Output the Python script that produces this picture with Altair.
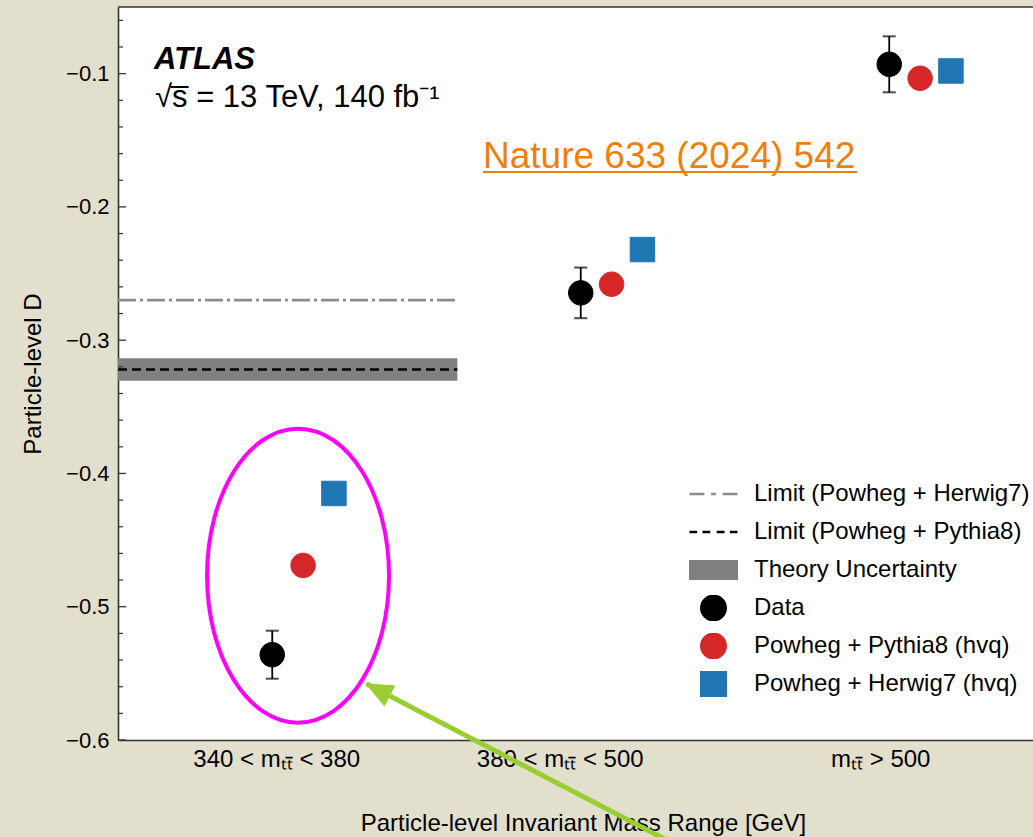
import json
import altair as alt
import pandas as pd

# ---------------- data ----------------
categories = ["340 < mₜₜ̄ < 380", "380 < mₜₜ̄ < 500", "mₜₜ̄ > 500"]
data_D = [-0.536, -0.2645, -0.093]
data_err = [0.018, 0.019, 0.021]
pythia_D = [-0.469, -0.258, -0.1035]
herwig_D = [-0.415, -0.232, -0.098]
limit_herwig = -0.270
limit_pythia = -0.322
theory_unc = 0.0084
limit_x = [-0.5, 0.6]
y_major = [-0.6, -0.5, -0.4, -0.3, -0.2, -0.1]

legend_labels = [
    "Limit (Powheg + Herwig7)",
    "Limit (Powheg + Pythia8)",
    "Theory Uncertainty",
    "Data",
    "Powheg + Pythia8 (hvq)",
    "Powheg + Herwig7 (hvq)",
]
legend_colors = ["#8c8c8c", "#000000", "#808080", "#000000", "#d62728", "#1f77b4"]
CIRCLE = "M-0.51,0A0.51,0.51 0 1,0 0.51,0A0.51,0.51 0 1,0 -0.51,0Z"
legend_shapes = [
    "M-1,0H-0.38M-0.1,0H0.1M0.38,0H1",
    "M-1,0H-0.68M-0.46,0H-0.135M0.135,0H0.46M0.68,0H1",
    "M-0.97,-0.36H0.97V0.36H-0.97Z",
    CIRCLE,
    CIRCLE,
    "M-0.51,-0.51H0.51V0.51H-0.51Z",
]

# hand-drawn annotations on the slide
ellipse_center = [0.0836, -0.4767]
arrow_tip = [0.305, -0.5578]
arrow_tail = [1.462, -0.6972]

# ---------------- tables ----------------
series_defs = [("Data", data_D, 0.0), ("Powheg + Pythia8 (hvq)", pythia_D, 0.1),
               ("Powheg + Herwig7 (hvq)", herwig_D, 0.2)]
pts = pd.DataFrame([
    {"pos": i + off, "D": vals[i], "series": name}
    for name, vals, off in series_defs for i in range(len(categories))
])
err = pd.DataFrame({
    "pos": list(range(len(categories))),
    "lo": [v - e for v, e in zip(data_D, data_err)],
    "hi": [v + e for v, e in zip(data_D, data_err)],
})
band = pd.DataFrame({"x0": [limit_x[0]], "x1": [limit_x[1]],
                     "y0": [limit_pythia - theory_unc], "y1": [limit_pythia + theory_unc]})
lines = pd.DataFrame({"x0": [limit_x[0]], "x1": [limit_x[1]],
                      "herwig": [limit_herwig], "pythia": [limit_pythia]})
minor_vals = [round(-0.6 + 0.02 * k, 2) for k in range(28)]
minor_vals = [v for v in minor_vals if all(abs(v - m) > 1e-9 for m in y_major)]
major_df = pd.DataFrame({"v": y_major})
minor_df = pd.DataFrame({"v": minor_vals})
ell_df = pd.DataFrame({"x": [ellipse_center[0]], "y": [ellipse_center[1]]})
arrow_df = pd.DataFrame({"x": [arrow_tail[0]], "y": [arrow_tail[1]],
                         "x2": [arrow_tip[0]], "y2": [arrow_tip[1]]})
tip_df = pd.DataFrame({"x": [arrow_tip[0]], "y": [arrow_tip[1]]})
one = pd.DataFrame({"k": [0]})

# ---------------- scales / axes ----------------
FONT = "Liberation Sans, Arial, Helvetica, sans-serif"
W, H = 915, 733
SYM = 2304
XT = "Particle-level Invariant Mass Range [GeV]"
YT = "Particle-level D"
xs = alt.Scale(domain=[-0.5, 2.466], nice=False, zero=False)
ys = alt.Scale(domain=[-0.6, -0.05], nice=False, zero=False)
label_expr = json.dumps(categories) + "[round(datum.value)]"
x_label_offset = {
    "condition": [
        {"test": "round(datum.value) == 1", "value": -21},
        {"test": "round(datum.value) == 2", "value": -9},
    ],
    "value": 4,
}
xaxis = alt.Axis(values=[0, 1, 2], labelExpr=label_expr, ticks=False, tickSize=0,
                 grid=False, labelFontSize=24, labelPadding=7, labelColor="black",
                 labelOffset=x_label_offset,
                 domainColor="#333333", domainWidth=1.6, titleFontSize=24,
                 titleFontWeight="normal", titleColor="black", titleX=465, titleY=90,
                 titleBaseline="alphabetic", labelFlush=False, labelOverlap=False)
yaxis = alt.Axis(values=y_major, format=".1f", ticks=False, tickSize=0, grid=False,
                 labelFontSize=22, labelPadding=9, labelColor="black",
                 domainColor="#333333", domainWidth=1.6, titleFontSize=24,
                 titleFontWeight="normal", titleColor="black", titleX=-78,
                 titleBaseline="alphabetic")


def X(f):
    return alt.X(f, scale=xs, axis=xaxis, title=XT)


def Y(f):
    return alt.Y(f, scale=ys, axis=yaxis, title=YT)


# ---------------- layers ----------------
band_l = alt.Chart(band).mark_rect(color="#808080").encode(
    x=X("x0:Q"), x2="x1:Q", y=Y("y0:Q"), y2="y1:Q")
herwig_l = alt.Chart(lines).mark_rule(color="#8c8c8c", strokeWidth=2.8,
                                      strokeDash=[18, 4, 3, 4]).encode(
    x=X("x0:Q"), x2="x1:Q", y=Y("herwig:Q"))
pythia_l = alt.Chart(lines).mark_rule(color="#000000", strokeWidth=2.6,
                                      strokeDash=[9, 5]).encode(
    x=X("x0:Q"), x2="x1:Q", y=Y("pythia:Q"))
err_l = alt.Chart(err).mark_rule(color="black", strokeWidth=1.8).encode(
    x=X("pos:Q"), y=Y("lo:Q"), y2="hi:Q")
cap_lo = alt.Chart(err).mark_tick(color="black", orient="horizontal", size=13,
                                  thickness=2).encode(x=X("pos:Q"), y=Y("lo:Q"))
cap_hi = alt.Chart(err).mark_tick(color="black", orient="horizontal", size=13,
                                  thickness=2).encode(x=X("pos:Q"), y=Y("hi:Q"))

sc_fill = alt.Scale(domain=legend_labels, range=legend_colors)
sc_stroke = alt.Scale(domain=legend_labels, range=legend_colors)
sc_shape = alt.Scale(domain=legend_labels, range=legend_shapes)
points_l = alt.Chart(pts).mark_point(filled=True, size=SYM, strokeWidth=1,
                                     opacity=1).encode(
    x=X("pos:Q"), y=Y("D:Q"),
    fill=alt.Fill("series:N", scale=sc_fill, legend=alt.Legend(title=None)),
    stroke=alt.Stroke("series:N", scale=sc_stroke, legend=alt.Legend(title=None)),
    shape=alt.Shape("series:N", scale=sc_shape, legend=alt.Legend(title=None)),
)

major_l = alt.Chart(major_df).mark_rule(color="#333333", strokeWidth=1.3).encode(
    y=Y("v:Q"), x=alt.value(0), x2=alt.value(8))
minor_l = alt.Chart(minor_df).mark_rule(color="#333333", strokeWidth=1.2).encode(
    y=Y("v:Q"), x=alt.value(0), x2=alt.value(5))
top_l = alt.Chart(one).mark_rule(color="#333333", strokeWidth=1.6).encode(
    x=alt.value(0), x2=alt.value(W), y=alt.value(0))

atlas_l = alt.Chart(pd.DataFrame({"t": ["ATLAS"]})).mark_text(
    align="left", baseline="alphabetic", fontSize=31, fontWeight="bold",
    fontStyle="italic", color="black").encode(
    x=alt.value(36), y=alt.value(62), text="t:N")
energy_l = alt.Chart(pd.DataFrame({"t": ["√s̅ = 13 TeV, 140 fb⁻¹"]})).mark_text(
    align="left", baseline="alphabetic", fontSize=31, color="black").encode(
    x=alt.value(37), y=alt.value(100), text="t:N")
nature_l = alt.Chart(pd.DataFrame({"t": ["Nature 633 (2024) 542"]})).mark_text(
    align="left", baseline="alphabetic", fontSize=37, color="#f07f0a").encode(
    x=alt.value(365), y=alt.value(161), text="t:N")
underline_l = alt.Chart(one).mark_rule(color="#f07f0a", strokeWidth=2).encode(
    x=alt.value(365), x2=alt.value(739), y=alt.value(165))

ellipse_l = alt.Chart(ell_df).mark_point(
    shape="M0,-1A0.619,1 0 1,1 0,1A0.619,1 0 1,1 0,-1Z", size=86436,
    filled=False, stroke="#ff00ff", strokeWidth=4, opacity=1).encode(
    x=X("x:Q"), y=Y("y:Q"))
arrow_l = alt.Chart(arrow_df).mark_rule(color="#9acd32", strokeWidth=5).encode(
    x=X("x:Q"), y=Y("y:Q"), x2="x2:Q", y2="y2:Q")
tip_l = alt.Chart(tip_df).mark_point(
    shape="M0,0L-1.1,2.6L1.1,2.6Z", size=400, filled=True, fill="#9acd32",
    stroke="#9acd32", strokeWidth=1, opacity=1, angle=297.5).encode(
    x=X("x:Q"), y=Y("y:Q"))

chart = alt.layer(
    band_l, herwig_l, pythia_l, err_l, cap_lo, cap_hi, points_l,
    major_l, minor_l, top_l, atlas_l, energy_l, nature_l, underline_l,
    ellipse_l, arrow_l, tip_l,
).properties(
    width=W, height=H, autosize="none",
    padding={"left": 118, "top": 7, "right": 0, "bottom": 97},
    background="#e2dfcc",
).configure(font=FONT).configure_view(fill="white", stroke=None).configure_legend(
    orient="none", legendX=570, legendY=474, padding=0, symbolSize=SYM,
    symbolStrokeWidth=2.5, labelFontSize=24, labelColor="black", labelLimit=500,
    labelOffset=15, rowPadding=12, clipHeight=26, symbolOpacity=1,
)

chart.save("out.html", embed_options={"renderer": "svg", "actions": False})
